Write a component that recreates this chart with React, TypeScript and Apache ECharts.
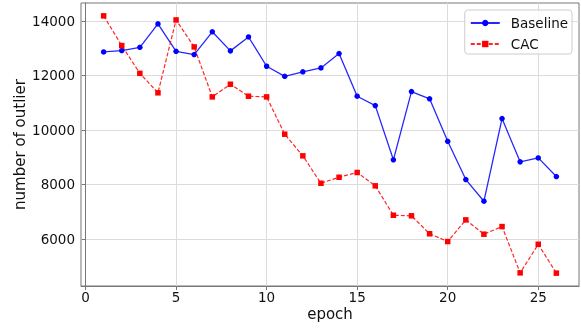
import React, { useEffect, useRef } from "react";
import * as echarts from "echarts";

const epochs = [1, 2, 3, 4, 5, 6, 7, 8, 9, 10, 11, 12, 13, 14, 15, 16, 17, 18, 19, 20, 21, 22, 23, 24, 25, 26];
const baseline = [12860, 12910, 13030, 13890, 12885, 12765, 13600, 12900, 13410, 12335, 11965, 12130, 12275, 12800, 11235, 10890, 8900, 11405, 11140, 9580, 8175, 7380, 10415, 8825, 8970, 8285];
const cac = [14185, 13095, 12075, 11360, 14035, 13045, 11210, 11675, 11235, 11210, 9840, 9045, 8040, 8260, 8435, 7945, 6865, 6845, 6185, 5900, 6695, 6170, 6450, 4750, 5800, 4740];
const xTicks = [0, 5, 10, 15, 20, 25];
const yTicks = [6000, 8000, 10000, 12000, 14000];

const FONT = "DejaVu Sans";

export default function App() {
  const ref = useRef<HTMLDivElement>(null);
  useEffect(() => {
    if (!ref.current) return;
    const chart = echarts.init(ref.current, null, { renderer: "svg" });
    const allVals = baseline.concat(cac);
    const vmin = Math.min(...allVals);
    const vmax = Math.max(...allVals);
    const vpad = (vmax - vmin) * 0.05;
    const xmin = Math.min(...epochs);
    const xmax = Math.max(...epochs);
    const xpad = (xmax - xmin) * 0.05;
    chart.setOption({
      animation: false,
      grid: {
        left: 81,
        right: 2,
        top: 3,
        bottom: 42,
        outerBoundsMode: "none",
        containLabel: false,
        show: true,
        borderColor: "#777",
        borderWidth: 1,
        backgroundColor: "transparent",
      },
      xAxis: {
        type: "value",
        min: xmin - xpad,
        max: xmax + xpad,
        name: "epoch",
        nameLocation: "middle",
        nameGap: 20,
        nameMoveOverlap: false,
        nameTextStyle: { fontFamily: FONT, fontSize: 15, color: "#111" },
        axisLine: { show: true, lineStyle: { color: "#777" } },
        axisTick: { show: true, length: 4, lineStyle: { color: "#777" }, customValues: xTicks },
        axisLabel: { customValues: xTicks, fontFamily: FONT, fontSize: 13.5, color: "#111", margin: 4, formatter: (v: number) => String(v) },
        splitLine: { show: true, lineStyle: { color: "#dcdcdc", width: 1 } },
      },
      yAxis: {
        type: "value",
        min: vmin - vpad,
        max: vmax + vpad,
        name: "number of outlier",
        nameLocation: "middle",
        nameGap: 54,
        nameMoveOverlap: false,
        nameTextStyle: { fontFamily: FONT, fontSize: 15, color: "#111" },
        axisLine: { show: true, lineStyle: { color: "#777" } },
        axisTick: { show: true, length: 4, lineStyle: { color: "#777" }, customValues: yTicks },
        axisLabel: { customValues: yTicks, fontFamily: FONT, fontSize: 13.5, color: "#111", margin: 6, formatter: (v: number) => String(v) },
        splitLine: { show: true, lineStyle: { color: "#dcdcdc", width: 1 } },
      },
      legend: {
        orient: "vertical",
        right: 9,
        top: 10,
        itemWidth: 29,
        itemHeight: 8,
        itemGap: 7,
        padding: [6, 4, 3, 5],
        borderColor: "#cccccc",
        borderWidth: 1,
        borderRadius: 3,
        backgroundColor: "rgba(255,255,255,0.8)",
        textStyle: { fontFamily: FONT, fontSize: 13.5, color: "#111", padding: [0, 0, 0, 6] },
        data: ["Baseline", "CAC"],
      },
      series: [
        {
          name: "Baseline",
          type: "line",
          data: epochs.map((e, i) => [e, baseline[i]]),
          symbol: "circle",
          symbolSize: 5.5,
          itemStyle: { color: "#0000ff" },
          lineStyle: { color: "#0000ff", width: 1.3, opacity: 0.85 },
        },
        {
          name: "CAC",
          type: "line",
          data: epochs.map((e, i) => [e, cac[i]]),
          symbol: "rect",
          symbolSize: 5.5,
          itemStyle: { color: "#ff0000" },
          lineStyle: { color: "#ff0000", width: 1.2, type: [4, 2], opacity: 0.85 },
        },
      ],
    });
    return () => chart.dispose();
  }, []);
  return <div ref={ref} style={{ position: "fixed", left: 0, top: 0, width: 581, height: 328 }} />;
}
